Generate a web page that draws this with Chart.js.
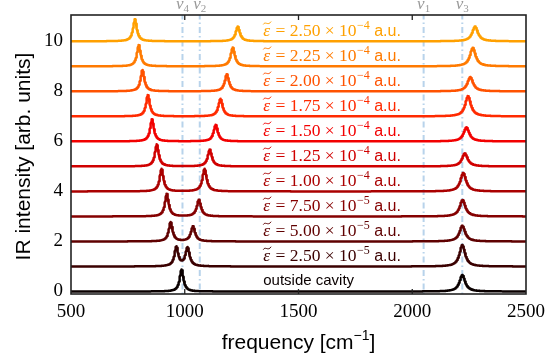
<!DOCTYPE html>
<html>
<head>
<meta charset="utf-8">
<script src="https://cdn.jsdelivr.net/npm/chart.js@4.4.0/dist/chart.umd.min.js"></script>
<style>
  html, body { margin: 0; padding: 0; background: #fff; }
</style>
</head>
<body>
<canvas id="chart" width="546" height="360"></canvas>
<script>
// one spectrum per coupling strength, offset by its index (0 = outside cavity)
const mantissas = ["", "2.50", "5.00", "7.50", "1.00", "1.25", "1.50", "1.75", "2.00", "2.25", "2.50"];
const exponents = [null, -5, -5, -5, -4, -4, -4, -4, -4, -4, -4];

// peak positions [cm^-1] and heights
const lowerPeak = [986, 963, 938, 921, 898, 877, 856, 838, 814, 798, 781];
const lowerHeight = [0.88, 0.77, 0.77, 0.9, 0.9, 0.88, 0.88, 0.85, 0.85, 0.85, 0.88];
const upperPeak = [null, 1012, 1036, 1062, 1087, 1110, 1136, 1157, 1185, 1211, 1233];
const upperHeight = [null, 0.75, 0.6, 0.66, 0.9, 0.67, 0.66, 0.7, 0.68, 0.75, 0.59];
const stretchPeak = [2220, 2220, 2220, 2221, 2224, 2231, 2238, 2245, 2255, 2266, 2276];
const stretchHeight = [0.66, 0.86, 0.63, 0.66, 0.74, 0.52, 0.56, 0.81, 0.57, 0.74, 0.59];

const lineColors = ["#0a0000", "#3a0000", "#5f0000", "#850000", "#aa0000", "#d00000",
                    "#f20000", "#ff2a00", "#ff5200", "#ff7a00", "#ffa000"];

// molecular modes (vertical guides)
const modeNames = ["4", "2", "1", "3"];
const modeFreqs = [990, 1066, 2050, 2220];

const xTicks = [500, 1000, 1500, 2000, 2500];
const yTicks = [0, 2, 4, 6, 8, 10];

const labelFreq = 1345;
const labelOffset = 0.43;

function lorentz(x, x0, h, fwhm) {
  const d = (x - x0) / (fwhm / 2);
  return h / (1 + d * d);
}

function spectrum(i) {
  const pts = [];
  for (let x = 500; x <= 2500; x += 1) {
    let y = i;
    y += lorentz(x, lowerPeak[i], lowerHeight[i], 20);
    if (upperPeak[i] !== null) y += lorentz(x, upperPeak[i], upperHeight[i], 22);
    y += lorentz(x, stretchPeak[i], stretchHeight[i], 30);
    pts.push({ x: x, y: y });
  }
  return pts;
}

const datasets = [];
modeFreqs.forEach((f) => {
  datasets.push({
    data: [{ x: f, y: -1 }, { x: f, y: 12 }],
    borderColor: "rgba(160, 196, 228, 0.75)",
    borderWidth: 2,
    borderDash: [6, 3, 1.5, 3],
    pointRadius: 0,
    order: 100,
  });
});
for (let i = 0; i < mantissas.length; i++) {
  datasets.push({
    data: spectrum(i),
    borderColor: lineColors[i],
    borderWidth: 2.5,
    borderJoinStyle: "round",
    pointRadius: 0,
    tension: 0,
    order: 0,
  });
}

const overlay = {
  id: "overlay",
  afterDraw(chart) {
    const ctx = chart.ctx;
    const a = chart.chartArea;
    const xs = chart.scales.x;
    const ys = chart.scales.y;
    ctx.save();

    // frame
    ctx.strokeStyle = "#222";
    ctx.lineWidth = 1.6;
    ctx.strokeRect(a.left, a.top, a.right - a.left, a.bottom - a.top);

    // inward ticks on bottom and top
    ctx.lineWidth = 1.3;
    [1000, 1500, 2000].forEach((v) => {
      const px = xs.getPixelForValue(v);
      ctx.beginPath();
      ctx.moveTo(px, a.bottom); ctx.lineTo(px, a.bottom - 5);
      ctx.moveTo(px, a.top); ctx.lineTo(px, a.top + 5);
      ctx.stroke();
    });

    // mode names above the frame
    ctx.fillStyle = "#999";
    ctx.textBaseline = "alphabetic";
    modeFreqs.forEach((f, k) => {
      const px = xs.getPixelForValue(f);
      ctx.font = "italic 17px 'Liberation Serif'";
      const vw = ctx.measureText("v").width;
      ctx.font = "11px 'Liberation Serif'";
      const sw = ctx.measureText(modeNames[k]).width;
      const x0 = px - (vw + sw) / 2;
      ctx.font = "italic 17px 'Liberation Serif'";
      ctx.textAlign = "left";
      ctx.fillText("v", x0, 9);
      ctx.font = "11px 'Liberation Serif'";
      ctx.fillText(modeNames[k], x0 + vw, 12);
    });

    // spectrum labels
    ctx.textBaseline = "middle";
    ctx.textAlign = "left";
    for (let i = 0; i < mantissas.length; i++) {
      let x = xs.getPixelForValue(labelFreq);
      const y = ys.getPixelForValue(i + labelOffset);
      ctx.fillStyle = lineColors[i];
      ctx.strokeStyle = lineColors[i];
      if (i === 0) {
        ctx.font = "15px 'Liberation Sans'";
        ctx.fillText("outside cavity", x, y);
        continue;
      }
      ctx.font = "italic 17.5px 'Liberation Serif'";
      ctx.fillText("ε", x, y + 1);
      const ew = ctx.measureText("ε").width;
      ctx.lineWidth = 0.9;
      ctx.beginPath();
      const ty = y - 7.5;
      ctx.moveTo(x, ty + 1.5);
      ctx.bezierCurveTo(x + ew * 0.3, ty - 2.5, x + ew * 0.7, ty + 3.5, x + ew + 1, ty - 1.5);
      ctx.stroke();
      x += ew + 1;
      ctx.font = "17.5px 'Liberation Serif'";
      const main = " = " + mantissas[i] + " × 10";
      ctx.fillText(main, x, y + 1);
      x += ctx.measureText(main).width;
      ctx.font = "12px 'Liberation Serif'";
      const sup = "−" + Math.abs(exponents[i]);
      ctx.fillText(sup, x + 0.5, y - 5);
      x += ctx.measureText(sup).width + 0.5;
      ctx.font = "16px 'Liberation Sans'";
      ctx.fillText(" a.u.", x, y + 1);
    }

    // axis titles
    ctx.fillStyle = "#000";
    ctx.textBaseline = "middle";
    const cx = (a.left + a.right) / 2;
    const t1 = "frequency [cm";
    const t2 = "]";
    ctx.font = "14px 'Liberation Sans'";
    const supW = ctx.measureText("−1").width;
    ctx.font = "21px 'Liberation Sans'";
    const w1 = ctx.measureText(t1).width;
    const w2 = ctx.measureText(t2).width;
    let tx = cx - (w1 + supW + w2) / 2;
    ctx.textAlign = "left";
    ctx.fillText(t1, tx, 343);
    ctx.font = "14px 'Liberation Sans'";
    ctx.fillText("−1", tx + w1, 336);
    ctx.font = "21px 'Liberation Sans'";
    ctx.fillText(t2, tx + w1 + supW, 343);

    ctx.translate(24, (a.top + a.bottom) / 2 + 2);
    ctx.rotate(-Math.PI / 2);
    ctx.textAlign = "center";
    ctx.font = "21px 'Liberation Sans'";
    ctx.fillText("IR intensity [arb. units]", 0, 0);
    ctx.restore();
  },
};

new Chart(document.getElementById("chart"), {
  type: "line",
  data: { datasets: datasets },
  options: {
    responsive: false,
    animation: false,
    events: [],
    layout: { padding: { top: 15, right: 20, left: 0, bottom: 0 } },
    plugins: { legend: { display: false }, tooltip: { enabled: false } },
    scales: {
      x: {
        type: "linear",
        min: 500,
        max: 2500,
        afterBuildTicks(s) { s.ticks = xTicks.map((v) => ({ value: v })); },
        afterFit(s) { s.height = 66; s.paddingLeft = 0; s.paddingRight = 0; },
        ticks: {
          color: "#000", padding: 7, maxRotation: 0,
          font: { family: "Liberation Serif", size: 19 },
          callback: (v) => String(v),
        },
        grid: { display: false, drawTicks: false },
        border: { display: false },
      },
      y: {
        type: "linear",
        min: -0.1,
        max: 11.05,
        afterBuildTicks(s) { s.ticks = yTicks.map((v) => ({ value: v })); },
        afterFit(s) { s.width = 71; s.paddingTop = 0; s.paddingBottom = 0; },
        ticks: {
          color: "#000", padding: 8,
          font: { family: "Liberation Serif", size: 19 },
          callback: (v) => String(v),
        },
        grid: { display: false, drawTicks: false },
        border: { display: false },
      },
    },
  },
  plugins: [overlay],
});
</script>
</body>
</html>
